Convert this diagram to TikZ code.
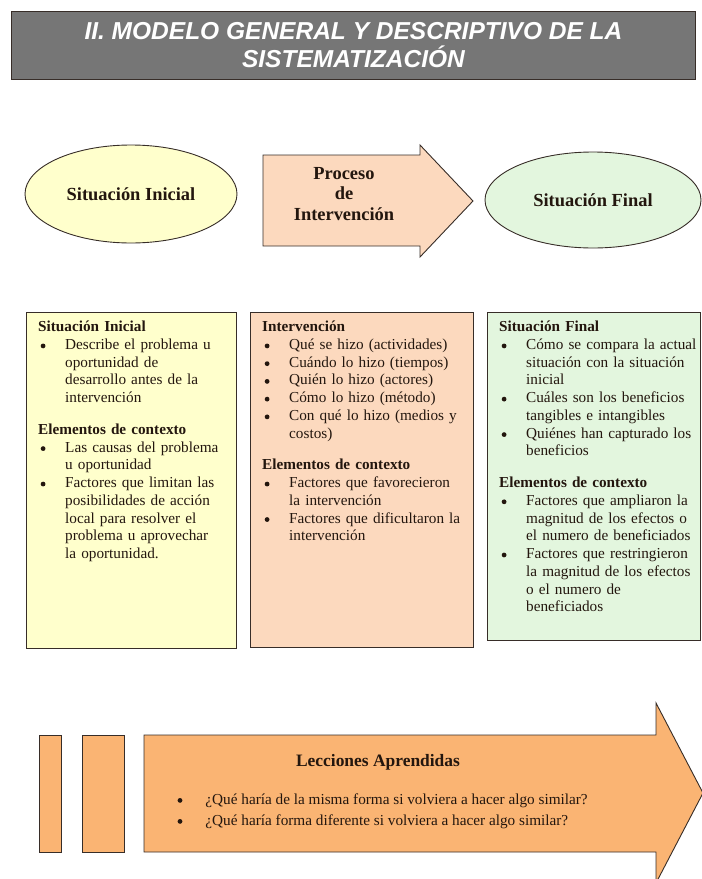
\documentclass[tikz,border=0pt]{standalone}
\usepackage{fontspec}
\setmainfont{Liberation Serif}
\newfontfamily\titlefont{Liberation Sans}
\usepackage{xcolor}
\usetikzlibrary{positioning, shapes.geometric}

\definecolor{titlegray}{RGB}{118,118,118}
\definecolor{iniyellow}{RGB}{255,255,204}
\definecolor{procpeach}{RGB}{252,217,190}
\definecolor{finalgreen}{RGB}{227,246,222}
\definecolor{lessorange}{RGB}{250,180,115}
\definecolor{edgegray}{RGB}{55,45,40}
\definecolor{inkdark}{RGB}{35,22,14}

% bullet line with hanging indent
\newcommand{\dotmark}{\tikz[baseline=-3.6bp]\fill[inkdark] (0,0) circle (2.4bp);}
\newcommand{\bul}[1]{\par\noindent\hangindent=27bp\hangafter=1\hbox to 27bp{\hspace{2.5bp}\dotmark\hfil}#1}
\newcommand{\gap}{\par\vspace{14bp}}

\begin{document}
\begin{tikzpicture}[x=1bp, y=-1bp, line width=0.9bp, text=inkdark,
    frame/.style={draw=edgegray},
    blob/.style={frame, ellipse, font=\bfseries\fontsize{18.5}{21}\selectfont},
    infobox/.style={frame, anchor=north west, inner sep=0},
    listtext/.style={anchor=north west, inner sep=0, text width=#1,
        font=\fontsize{15.3}{17.8}\selectfont}]
    \useasboundingbox (0,0) rectangle (702,879);

    % Title
    \node[frame, fill=titlegray, anchor=north west, minimum width=684bp, minimum height=68bp] (title) at (11,11) {};
    \node[text=white, align=center, font=\titlefont\bfseries\itshape\fontsize{24.6}{28}\selectfont] (titletext) at (title.center)
        {II. MODELO GENERAL Y DESCRIPTIVO DE LA\\SISTEMATIZACIÓN};

    % Top row
    \node[blob, fill=iniyellow, minimum width=212bp, minimum height=98bp] (ini) at (131,194) {Situación Inicial};
    \draw[frame, fill=procpeach] (263,155) -- (420,155) -- (420,145) -- (473,201) -- (420,257) -- (420,246) -- (263,246) -- cycle;
    \node[align=center, font=\bfseries\fontsize{18.5}{20.5}\selectfont] (proc) at (344,194) {Proceso\\de\\Intervención};
    \node[blob, fill=finalgreen, minimum width=216bp, minimum height=96bp] (fin) at (593,200) {Situación Final};

    % Boxes
    \node[infobox, fill=iniyellow, minimum width=210bp, minimum height=336bp] (boxini) at (26,312) {};
    \node[infobox, fill=procpeach, minimum width=223bp, minimum height=335bp] (boxproc) at (250,312) {};
    \node[infobox, fill=finalgreen, minimum width=213bp, minimum height=328bp] (boxfin) at (487,312) {};

    \node[listtext=192bp] (txtini) at ([xshift=12bp, yshift=-9bp]boxini.north west) {\raggedright\parindent=0pt
        {\bfseries Situación Inicial}
        \bul{Describe el problema u\newline oportunidad de\newline desarrollo antes de la\newline intervención}
        \gap{\bfseries Elementos de contexto}
        \bul{Las causas del problema\newline u oportunidad}
        \bul{Factores que limitan las\newline posibilidades de acción\newline local para resolver el\newline problema u aprovechar\newline la oportunidad.}\par};
    \node[listtext=207bp] (txtproc) at ([xshift=12bp, yshift=-9bp]boxproc.north west) {\raggedright\parindent=0pt
        {\bfseries Intervención}
        \bul{Qué se hizo (actividades)}
        \bul{Cuándo lo hizo (tiempos)}
        \bul{Quién lo hizo (actores)}
        \bul{Cómo lo hizo (método)}
        \bul{Con qué lo hizo (medios y\newline costos)}
        \gap{\bfseries Elementos de contexto}
        \bul{Factores que favorecieron\newline la intervención}
        \bul{Factores que dificultaron la\newline intervención}\par};
    \node[listtext=200bp] (txtfin) at ([xshift=12bp, yshift=-9bp]boxfin.north west) {\raggedright\parindent=0pt
        {\bfseries Situación Final}
        \bul{Cómo se compara la actual\newline situación con la situación\newline inicial}
        \bul{Cuáles son los beneficios\newline tangibles e intangibles}
        \bul{Quiénes han capturado los\newline beneficios}
        \gap{\bfseries Elementos de contexto}
        \bul{Factores que ampliaron la\newline magnitud de los efectos o\newline el numero de beneficiados}
        \bul{Factores que restringieron\newline la magnitud de los efectos\newline o el numero de\newline beneficiados}\par};

    % Lessons
    \node[infobox, fill=lessorange, minimum width=22bp, minimum height=117bp] (barA) at (39,735) {};
    \node[infobox, fill=lessorange, minimum width=42bp, minimum height=117bp] (barB) at (82,735) {};
    \draw[frame, fill=lessorange] (144,735) -- (656,735) -- (656,703) -- (703,793) -- (656,883) -- (656,852) -- (144,852) -- cycle;
    \node[font=\bfseries\fontsize{17.5}{20}\selectfont] (lesson) at (378,762) {Lecciones Aprendidas};
    \node[inner sep=0] (dotA) at (180,801) {\dotmark};
    \node[inner sep=0] (dotB) at (180,822) {\dotmark};
    \node[anchor=west, inner sep=0, font=\fontsize{15.3}{17.8}\selectfont] (askA) at (205,801) {¿Qué haría de la misma forma si volviera a hacer algo similar?};
    \node[anchor=west, inner sep=0, font=\fontsize{15.3}{17.8}\selectfont] (askB) at (205,822) {¿Qué haría forma diferente si volviera a hacer algo similar?};
\end{tikzpicture}
\end{document}
